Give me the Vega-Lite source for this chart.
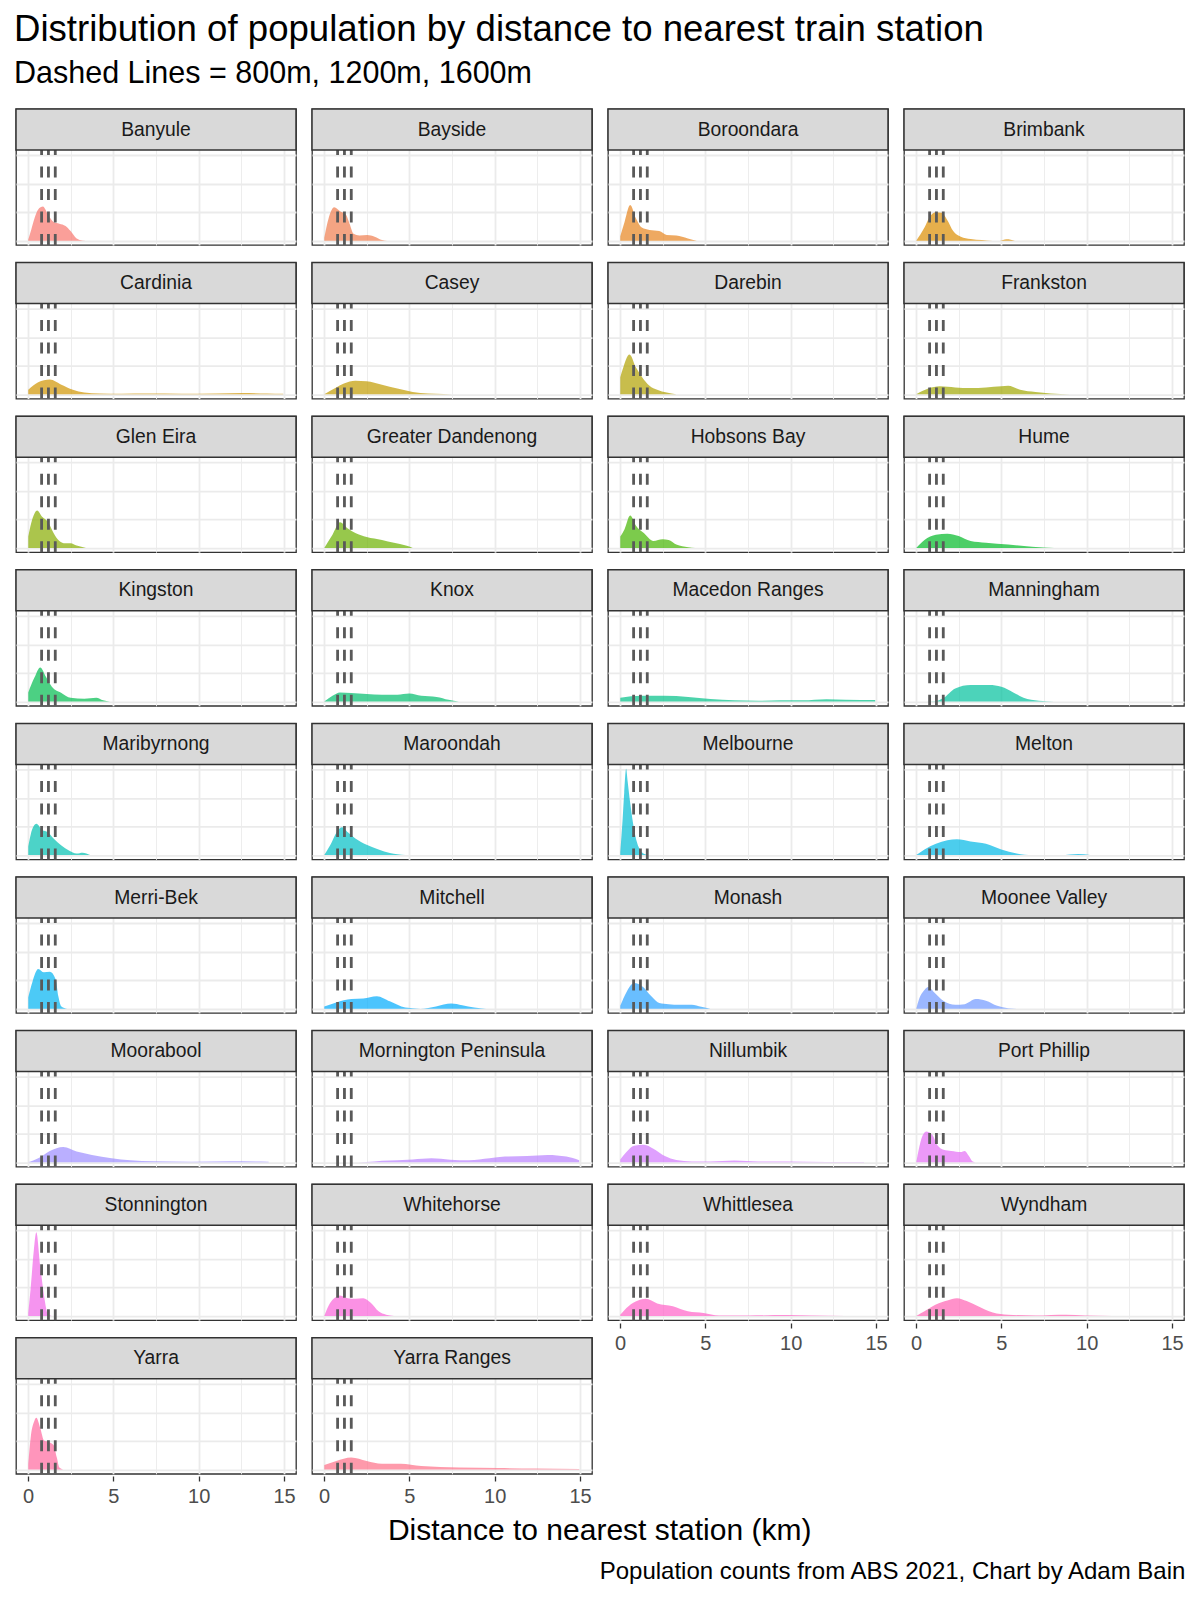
{
  "$schema": "https://vega.github.io/schema/vega-lite/v6.json",
  "background": "white",
  "padding": {"left": 14, "right": 16, "top": 12, "bottom": 10},
  "title": {
    "text": "Distribution of population by distance to nearest train station",
    "subtitle": "Dashed Lines = 800m, 1200m, 1600m",
    "anchor": "start",
    "font": "Liberation Sans",
    "subtitleFont": "Liberation Sans",
    "fontSize": 36.6,
    "subtitleFontSize": 30.5,
    "fontWeight": "normal",
    "color": "#000000",
    "subtitleColor": "#000000",
    "subtitlePadding": 10,
    "offset": 18
  },
  "data": {
    "values": [
      {"lga": "Banyule", "km": 0.02, "density": 0.02},
      {"lga": "Banyule", "km": 0.2, "density": 0.2},
      {"lga": "Banyule", "km": 0.38, "density": 0.39},
      {"lga": "Banyule", "km": 0.6, "density": 0.55},
      {"lga": "Banyule", "km": 0.88, "density": 0.6},
      {"lga": "Banyule", "km": 1.17, "density": 0.46},
      {"lga": "Banyule", "km": 1.5, "density": 0.33},
      {"lga": "Banyule", "km": 1.84, "density": 0.3},
      {"lga": "Banyule", "km": 2.2, "density": 0.26},
      {"lga": "Banyule", "km": 2.5, "density": 0.17},
      {"lga": "Banyule", "km": 2.85, "density": 0.04},
      {"lga": "Banyule", "km": 3.2, "density": 0.005},
      {"lga": "Banyule", "km": 3.6, "density": 0},

      {"lga": "Bayside", "km": 0.02, "density": 0.05},
      {"lga": "Bayside", "km": 0.27, "density": 0.39},
      {"lga": "Bayside", "km": 0.6, "density": 0.59},
      {"lga": "Bayside", "km": 0.94, "density": 0.52},
      {"lga": "Bayside", "km": 1.28, "density": 0.46},
      {"lga": "Bayside", "km": 1.5, "density": 0.3},
      {"lga": "Bayside", "km": 1.74, "density": 0.12},
      {"lga": "Bayside", "km": 2.08, "density": 0.09},
      {"lga": "Bayside", "km": 2.53, "density": 0.1},
      {"lga": "Bayside", "km": 2.97, "density": 0.07},
      {"lga": "Bayside", "km": 3.4, "density": 0.01},
      {"lga": "Bayside", "km": 3.7, "density": 0},

      {"lga": "Boroondara", "km": 0.02, "density": 0.08},
      {"lga": "Boroondara", "km": 0.27, "density": 0.33},
      {"lga": "Boroondara", "km": 0.6, "density": 0.63},
      {"lga": "Boroondara", "km": 0.94, "density": 0.39},
      {"lga": "Boroondara", "km": 1.28, "density": 0.23},
      {"lga": "Boroondara", "km": 1.73, "density": 0.19},
      {"lga": "Boroondara", "km": 2.3, "density": 0.17},
      {"lga": "Boroondara", "km": 2.74, "density": 0.1},
      {"lga": "Boroondara", "km": 3.3, "density": 0.09},
      {"lga": "Boroondara", "km": 3.98, "density": 0.04},
      {"lga": "Boroondara", "km": 4.5, "density": 0},

      {"lga": "Brimbank", "km": 0.02, "density": 0},
      {"lga": "Brimbank", "km": 0.5, "density": 0.23},
      {"lga": "Brimbank", "km": 0.83, "density": 0.43},
      {"lga": "Brimbank", "km": 1.17, "density": 0.5},
      {"lga": "Brimbank", "km": 1.5, "density": 0.49},
      {"lga": "Brimbank", "km": 1.84, "density": 0.36},
      {"lga": "Brimbank", "km": 2.18, "density": 0.17},
      {"lga": "Brimbank", "km": 2.63, "density": 0.07},
      {"lga": "Brimbank", "km": 3.2, "density": 0.03},
      {"lga": "Brimbank", "km": 3.86, "density": 0.01},
      {"lga": "Brimbank", "km": 4.5, "density": 0},
      {"lga": "Brimbank", "km": 4.9, "density": 0},
      {"lga": "Brimbank", "km": 5.3, "density": 0.025},
      {"lga": "Brimbank", "km": 5.8, "density": 0},

      {"lga": "Cardinia", "km": 0.02, "density": 0.08},
      {"lga": "Cardinia", "km": 0.6, "density": 0.21},
      {"lga": "Cardinia", "km": 1.28, "density": 0.26},
      {"lga": "Cardinia", "km": 1.96, "density": 0.17},
      {"lga": "Cardinia", "km": 2.63, "density": 0.08},
      {"lga": "Cardinia", "km": 3.3, "density": 0.03},
      {"lga": "Cardinia", "km": 4.2, "density": 0.013},
      {"lga": "Cardinia", "km": 5.5, "density": 0.01},
      {"lga": "Cardinia", "km": 7, "density": 0.012},
      {"lga": "Cardinia", "km": 9, "density": 0.01},
      {"lga": "Cardinia", "km": 11, "density": 0.015},
      {"lga": "Cardinia", "km": 12.5, "density": 0.022},
      {"lga": "Cardinia", "km": 14, "density": 0.015},
      {"lga": "Cardinia", "km": 14.95, "density": 0.01},

      {"lga": "Casey", "km": 0.02, "density": 0},
      {"lga": "Casey", "km": 0.72, "density": 0.12},
      {"lga": "Casey", "km": 1.17, "density": 0.19},
      {"lga": "Casey", "km": 1.84, "density": 0.24},
      {"lga": "Casey", "km": 2.5, "density": 0.23},
      {"lga": "Casey", "km": 3.4, "density": 0.17},
      {"lga": "Casey", "km": 4.3, "density": 0.1},
      {"lga": "Casey", "km": 5.2, "density": 0.04},
      {"lga": "Casey", "km": 6.1, "density": 0.013},
      {"lga": "Casey", "km": 7, "density": 0.005},
      {"lga": "Casey", "km": 8, "density": 0},

      {"lga": "Darebin", "km": 0.02, "density": 0.3},
      {"lga": "Darebin", "km": 0.16, "density": 0.44},
      {"lga": "Darebin", "km": 0.56, "density": 0.7},
      {"lga": "Darebin", "km": 0.94, "density": 0.47},
      {"lga": "Darebin", "km": 1.28, "density": 0.31},
      {"lga": "Darebin", "km": 1.73, "density": 0.15},
      {"lga": "Darebin", "km": 2.18, "density": 0.08},
      {"lga": "Darebin", "km": 2.74, "density": 0.03},
      {"lga": "Darebin", "km": 3.3, "density": 0},

      {"lga": "Frankston", "km": 0.02, "density": 0},
      {"lga": "Frankston", "km": 0.72, "density": 0.1},
      {"lga": "Frankston", "km": 1.4, "density": 0.14},
      {"lga": "Frankston", "km": 2.3, "density": 0.12},
      {"lga": "Frankston", "km": 3.2, "density": 0.11},
      {"lga": "Frankston", "km": 4.1, "density": 0.12},
      {"lga": "Frankston", "km": 5.0, "density": 0.14},
      {"lga": "Frankston", "km": 5.4, "density": 0.15},
      {"lga": "Frankston", "km": 6.1, "density": 0.08},
      {"lga": "Frankston", "km": 7.0, "density": 0.04},
      {"lga": "Frankston", "km": 7.9, "density": 0.013},
      {"lga": "Frankston", "km": 9, "density": 0},

      {"lga": "Glen Eira", "km": 0.02, "density": 0.2},
      {"lga": "Glen Eira", "km": 0.27, "density": 0.52},
      {"lga": "Glen Eira", "km": 0.54, "density": 0.66},
      {"lga": "Glen Eira", "km": 0.83, "density": 0.55},
      {"lga": "Glen Eira", "km": 1.17, "density": 0.46},
      {"lga": "Glen Eira", "km": 1.5, "density": 0.26},
      {"lga": "Glen Eira", "km": 1.84, "density": 0.12},
      {"lga": "Glen Eira", "km": 2.18, "density": 0.08},
      {"lga": "Glen Eira", "km": 2.5, "density": 0.08},
      {"lga": "Glen Eira", "km": 2.85, "density": 0.04},
      {"lga": "Glen Eira", "km": 3.4, "density": 0},

      {"lga": "Greater Dandenong", "km": 0.02, "density": 0},
      {"lga": "Greater Dandenong", "km": 0.5, "density": 0.23},
      {"lga": "Greater Dandenong", "km": 0.94, "density": 0.45},
      {"lga": "Greater Dandenong", "km": 1.4, "density": 0.34},
      {"lga": "Greater Dandenong", "km": 1.84, "density": 0.26},
      {"lga": "Greater Dandenong", "km": 2.5, "density": 0.19},
      {"lga": "Greater Dandenong", "km": 3.4, "density": 0.14},
      {"lga": "Greater Dandenong", "km": 4.1, "density": 0.09},
      {"lga": "Greater Dandenong", "km": 4.8, "density": 0.04},
      {"lga": "Greater Dandenong", "km": 5.2, "density": 0},

      {"lga": "Hobsons Bay", "km": 0.02, "density": 0.2},
      {"lga": "Hobsons Bay", "km": 0.27, "density": 0.33},
      {"lga": "Hobsons Bay", "km": 0.6, "density": 0.57},
      {"lga": "Hobsons Bay", "km": 0.94, "density": 0.39},
      {"lga": "Hobsons Bay", "km": 1.4, "density": 0.26},
      {"lga": "Hobsons Bay", "km": 1.96, "density": 0.12},
      {"lga": "Hobsons Bay", "km": 2.5, "density": 0.15},
      {"lga": "Hobsons Bay", "km": 2.85, "density": 0.14},
      {"lga": "Hobsons Bay", "km": 3.3, "density": 0.06},
      {"lga": "Hobsons Bay", "km": 4.0, "density": 0.013},
      {"lga": "Hobsons Bay", "km": 4.4, "density": 0},

      {"lga": "Hume", "km": 0.02, "density": 0},
      {"lga": "Hume", "km": 0.5, "density": 0.14},
      {"lga": "Hume", "km": 1.17, "density": 0.23},
      {"lga": "Hume", "km": 1.84, "density": 0.25},
      {"lga": "Hume", "km": 2.5, "density": 0.21},
      {"lga": "Hume", "km": 3.2, "density": 0.12},
      {"lga": "Hume", "km": 4.1, "density": 0.09},
      {"lga": "Hume", "km": 5.4, "density": 0.06},
      {"lga": "Hume", "km": 6.8, "density": 0.02},
      {"lga": "Hume", "km": 8.1, "density": 0},

      {"lga": "Kingston", "km": 0.02, "density": 0.16},
      {"lga": "Kingston", "km": 0.38, "density": 0.42},
      {"lga": "Kingston", "km": 0.72, "density": 0.6},
      {"lga": "Kingston", "km": 1.06, "density": 0.43},
      {"lga": "Kingston", "km": 1.4, "density": 0.26},
      {"lga": "Kingston", "km": 1.96, "density": 0.15},
      {"lga": "Kingston", "km": 2.5, "density": 0.065},
      {"lga": "Kingston", "km": 3.3, "density": 0.05},
      {"lga": "Kingston", "km": 4.0, "density": 0.065},
      {"lga": "Kingston", "km": 4.4, "density": 0.02},
      {"lga": "Kingston", "km": 4.8, "density": 0},

      {"lga": "Knox", "km": 0.02, "density": 0},
      {"lga": "Knox", "km": 0.5, "density": 0.1},
      {"lga": "Knox", "km": 0.94, "density": 0.16},
      {"lga": "Knox", "km": 1.6, "density": 0.15},
      {"lga": "Knox", "km": 2.5, "density": 0.13},
      {"lga": "Knox", "km": 3.4, "density": 0.12},
      {"lga": "Knox", "km": 4.3, "density": 0.12},
      {"lga": "Knox", "km": 5.0, "density": 0.14},
      {"lga": "Knox", "km": 5.7, "density": 0.1},
      {"lga": "Knox", "km": 6.6, "density": 0.08},
      {"lga": "Knox", "km": 7.3, "density": 0.03},
      {"lga": "Knox", "km": 7.9, "density": 0},

      {"lga": "Macedon Ranges", "km": 0.02, "density": 0.065},
      {"lga": "Macedon Ranges", "km": 1.28, "density": 0.1},
      {"lga": "Macedon Ranges", "km": 2.6, "density": 0.1},
      {"lga": "Macedon Ranges", "km": 4.0, "density": 0.08},
      {"lga": "Macedon Ranges", "km": 5.3, "density": 0.045},
      {"lga": "Macedon Ranges", "km": 6.7, "density": 0.02},
      {"lga": "Macedon Ranges", "km": 8.1, "density": 0.013},
      {"lga": "Macedon Ranges", "km": 9.4, "density": 0.02},
      {"lga": "Macedon Ranges", "km": 10.7, "density": 0.02},
      {"lga": "Macedon Ranges", "km": 12.1, "density": 0.04},
      {"lga": "Macedon Ranges", "km": 13.2, "density": 0.03},
      {"lga": "Macedon Ranges", "km": 14.95, "density": 0.025},

      {"lga": "Manningham", "km": 0.02, "density": 0},
      {"lga": "Manningham", "km": 1.17, "density": 0.005},
      {"lga": "Manningham", "km": 1.6, "density": 0.06},
      {"lga": "Manningham", "km": 2.3, "density": 0.23},
      {"lga": "Manningham", "km": 3.2, "density": 0.29},
      {"lga": "Manningham", "km": 4.3, "density": 0.29},
      {"lga": "Manningham", "km": 5.0, "density": 0.26},
      {"lga": "Manningham", "km": 5.7, "density": 0.16},
      {"lga": "Manningham", "km": 6.3, "density": 0.065},
      {"lga": "Manningham", "km": 7.2, "density": 0.013},
      {"lga": "Manningham", "km": 8.1, "density": 0},

      {"lga": "Maribyrnong", "km": 0.02, "density": 0.15},
      {"lga": "Maribyrnong", "km": 0.16, "density": 0.36},
      {"lga": "Maribyrnong", "km": 0.49, "density": 0.55},
      {"lga": "Maribyrnong", "km": 0.83, "density": 0.44},
      {"lga": "Maribyrnong", "km": 1.17, "density": 0.4},
      {"lga": "Maribyrnong", "km": 1.5, "density": 0.29},
      {"lga": "Maribyrnong", "km": 1.96, "density": 0.17},
      {"lga": "Maribyrnong", "km": 2.4, "density": 0.08},
      {"lga": "Maribyrnong", "km": 2.85, "density": 0.026},
      {"lga": "Maribyrnong", "km": 3.2, "density": 0.04},
      {"lga": "Maribyrnong", "km": 3.64, "density": 0},

      {"lga": "Maroondah", "km": 0.02, "density": 0},
      {"lga": "Maroondah", "km": 0.38, "density": 0.18},
      {"lga": "Maroondah", "km": 0.83, "density": 0.44},
      {"lga": "Maroondah", "km": 1.06, "density": 0.49},
      {"lga": "Maroondah", "km": 1.4, "density": 0.4},
      {"lga": "Maroondah", "km": 1.84, "density": 0.29},
      {"lga": "Maroondah", "km": 2.5, "density": 0.18},
      {"lga": "Maroondah", "km": 3.2, "density": 0.1},
      {"lga": "Maroondah", "km": 3.86, "density": 0.035},
      {"lga": "Maroondah", "km": 4.76, "density": 0},

      {"lga": "Melbourne", "km": 0.02, "density": 0.05},
      {"lga": "Melbourne", "km": 0.16, "density": 0.65},
      {"lga": "Melbourne", "km": 0.25, "density": 1.1},
      {"lga": "Melbourne", "km": 0.36, "density": 1.52},
      {"lga": "Melbourne", "km": 0.45, "density": 1.3},
      {"lga": "Melbourne", "km": 0.6, "density": 0.92},
      {"lga": "Melbourne", "km": 0.8, "density": 0.5},
      {"lga": "Melbourne", "km": 1.0, "density": 0.22},
      {"lga": "Melbourne", "km": 1.2, "density": 0.08},
      {"lga": "Melbourne", "km": 1.4, "density": 0.025},
      {"lga": "Melbourne", "km": 1.7, "density": 0},

      {"lga": "Melton", "km": 0.02, "density": 0},
      {"lga": "Melton", "km": 0.5, "density": 0.1},
      {"lga": "Melton", "km": 1.17, "density": 0.2},
      {"lga": "Melton", "km": 1.84, "density": 0.26},
      {"lga": "Melton", "km": 2.4, "density": 0.28},
      {"lga": "Melton", "km": 3.2, "density": 0.24},
      {"lga": "Melton", "km": 4.1, "density": 0.2},
      {"lga": "Melton", "km": 5.0, "density": 0.1},
      {"lga": "Melton", "km": 5.9, "density": 0.03},
      {"lga": "Melton", "km": 6.8, "density": 0},
      {"lga": "Melton", "km": 8.5, "density": 0},
      {"lga": "Melton", "km": 9.5, "density": 0.02},
      {"lga": "Melton", "km": 10.2, "density": 0},

      {"lga": "Merri-Bek", "km": 0.02, "density": 0.2},
      {"lga": "Merri-Bek", "km": 0.27, "density": 0.48},
      {"lga": "Merri-Bek", "km": 0.6, "density": 0.7},
      {"lga": "Merri-Bek", "km": 0.94, "density": 0.64},
      {"lga": "Merri-Bek", "km": 1.28, "density": 0.65},
      {"lga": "Merri-Bek", "km": 1.62, "density": 0.52},
      {"lga": "Merri-Bek", "km": 1.78, "density": 0.22},
      {"lga": "Merri-Bek", "km": 1.96, "density": 0.04},
      {"lga": "Merri-Bek", "km": 2.3, "density": 0},

      {"lga": "Mitchell", "km": 0.02, "density": 0.04},
      {"lga": "Mitchell", "km": 0.72, "density": 0.11},
      {"lga": "Mitchell", "km": 1.6, "density": 0.17},
      {"lga": "Mitchell", "km": 2.3, "density": 0.18},
      {"lga": "Mitchell", "km": 3.1, "density": 0.22},
      {"lga": "Mitchell", "km": 3.86, "density": 0.13},
      {"lga": "Mitchell", "km": 4.76, "density": 0.02},
      {"lga": "Mitchell", "km": 5.66, "density": 0},
      {"lga": "Mitchell", "km": 6.56, "density": 0.04},
      {"lga": "Mitchell", "km": 7.46, "density": 0.09},
      {"lga": "Mitchell", "km": 8.1, "density": 0.06},
      {"lga": "Mitchell", "km": 8.8, "density": 0.02},
      {"lga": "Mitchell", "km": 9.5, "density": 0},

      {"lga": "Monash", "km": 0.02, "density": 0.05},
      {"lga": "Monash", "km": 0.38, "density": 0.29},
      {"lga": "Monash", "km": 0.83, "density": 0.45},
      {"lga": "Monash", "km": 1.28, "density": 0.4},
      {"lga": "Monash", "km": 1.84, "density": 0.22},
      {"lga": "Monash", "km": 2.3, "density": 0.1},
      {"lga": "Monash", "km": 2.85, "density": 0.08},
      {"lga": "Monash", "km": 3.5, "density": 0.07},
      {"lga": "Monash", "km": 4.2, "density": 0.07},
      {"lga": "Monash", "km": 4.76, "density": 0.035},
      {"lga": "Monash", "km": 5.3, "density": 0},

      {"lga": "Moonee Valley", "km": 0.02, "density": 0},
      {"lga": "Moonee Valley", "km": 0.16, "density": 0.15},
      {"lga": "Moonee Valley", "km": 0.5, "density": 0.33},
      {"lga": "Moonee Valley", "km": 0.72, "density": 0.38},
      {"lga": "Moonee Valley", "km": 1.06, "density": 0.29},
      {"lga": "Moonee Valley", "km": 1.6, "density": 0.14},
      {"lga": "Moonee Valley", "km": 2.3, "density": 0.07},
      {"lga": "Moonee Valley", "km": 2.85, "density": 0.08},
      {"lga": "Moonee Valley", "km": 3.5, "density": 0.17},
      {"lga": "Moonee Valley", "km": 4.1, "density": 0.14},
      {"lga": "Moonee Valley", "km": 4.76, "density": 0.05},
      {"lga": "Moonee Valley", "km": 5.4, "density": 0.007},
      {"lga": "Moonee Valley", "km": 5.9, "density": 0},

      {"lga": "Moorabool", "km": 0.02, "density": 0},
      {"lga": "Moorabool", "km": 0.6, "density": 0.07},
      {"lga": "Moorabool", "km": 1.28, "density": 0.2},
      {"lga": "Moorabool", "km": 2.07, "density": 0.27},
      {"lga": "Moorabool", "km": 2.85, "density": 0.19},
      {"lga": "Moorabool", "km": 3.75, "density": 0.13},
      {"lga": "Moorabool", "km": 4.9, "density": 0.07},
      {"lga": "Moorabool", "km": 6.0, "density": 0.035},
      {"lga": "Moorabool", "km": 7.35, "density": 0.017},
      {"lga": "Moorabool", "km": 9.6, "density": 0.01},
      {"lga": "Moorabool", "km": 11.8, "density": 0.017},
      {"lga": "Moorabool", "km": 14.1, "density": 0.01},

      {"lga": "Mornington Peninsula", "km": 1.5, "density": 0},
      {"lga": "Mornington Peninsula", "km": 2.5, "density": 0.005},
      {"lga": "Mornington Peninsula", "km": 3.4, "density": 0.026},
      {"lga": "Mornington Peninsula", "km": 5.2, "density": 0.05},
      {"lga": "Mornington Peninsula", "km": 6.3, "density": 0.07},
      {"lga": "Mornington Peninsula", "km": 7.4, "density": 0.045},
      {"lga": "Mornington Peninsula", "km": 8.5, "density": 0.035},
      {"lga": "Mornington Peninsula", "km": 9.7, "density": 0.07},
      {"lga": "Mornington Peninsula", "km": 10.6, "density": 0.1},
      {"lga": "Mornington Peninsula", "km": 11.9, "density": 0.11},
      {"lga": "Mornington Peninsula", "km": 13.1, "density": 0.13},
      {"lga": "Mornington Peninsula", "km": 14.2, "density": 0.1},
      {"lga": "Mornington Peninsula", "km": 14.95, "density": 0.035},

      {"lga": "Nillumbik", "km": 0.02, "density": 0.05},
      {"lga": "Nillumbik", "km": 0.38, "density": 0.18},
      {"lga": "Nillumbik", "km": 0.83, "density": 0.29},
      {"lga": "Nillumbik", "km": 1.4, "density": 0.31},
      {"lga": "Nillumbik", "km": 1.96, "density": 0.24},
      {"lga": "Nillumbik", "km": 2.63, "density": 0.11},
      {"lga": "Nillumbik", "km": 3.3, "density": 0.04},
      {"lga": "Nillumbik", "km": 4.2, "density": 0.014},
      {"lga": "Nillumbik", "km": 5.3, "density": 0.014},
      {"lga": "Nillumbik", "km": 6.7, "density": 0.03},
      {"lga": "Nillumbik", "km": 8.1, "density": 0.014},
      {"lga": "Nillumbik", "km": 9.8, "density": 0.014},
      {"lga": "Nillumbik", "km": 12.1, "density": 0.007},
      {"lga": "Nillumbik", "km": 14.3, "density": 0.007},

      {"lga": "Port Phillip", "km": 0.02, "density": 0},
      {"lga": "Port Phillip", "km": 0.27, "density": 0.36},
      {"lga": "Port Phillip", "km": 0.6, "density": 0.54},
      {"lga": "Port Phillip", "km": 0.94, "density": 0.49},
      {"lga": "Port Phillip", "km": 1.28, "density": 0.29},
      {"lga": "Port Phillip", "km": 1.62, "density": 0.22},
      {"lga": "Port Phillip", "km": 2.07, "density": 0.2},
      {"lga": "Port Phillip", "km": 2.63, "density": 0.18},
      {"lga": "Port Phillip", "km": 2.85, "density": 0.2},
      {"lga": "Port Phillip", "km": 3.1, "density": 0.11},
      {"lga": "Port Phillip", "km": 3.3, "density": 0.02},
      {"lga": "Port Phillip", "km": 3.5, "density": 0},

      {"lga": "Stonnington", "km": 0.02, "density": 0.05},
      {"lga": "Stonnington", "km": 0.16, "density": 0.49},
      {"lga": "Stonnington", "km": 0.34, "density": 1.14},
      {"lga": "Stonnington", "km": 0.49, "density": 1.47},
      {"lga": "Stonnington", "km": 0.72, "density": 0.88},
      {"lga": "Stonnington", "km": 0.94, "density": 0.36},
      {"lga": "Stonnington", "km": 1.17, "density": 0.03},
      {"lga": "Stonnington", "km": 1.4, "density": 0},

      {"lga": "Whitehorse", "km": 0.02, "density": 0},
      {"lga": "Whitehorse", "km": 0.27, "density": 0.18},
      {"lga": "Whitehorse", "km": 0.6, "density": 0.31},
      {"lga": "Whitehorse", "km": 0.94, "density": 0.36},
      {"lga": "Whitehorse", "km": 1.4, "density": 0.31},
      {"lga": "Whitehorse", "km": 1.84, "density": 0.3},
      {"lga": "Whitehorse", "km": 2.3, "density": 0.31},
      {"lga": "Whitehorse", "km": 2.74, "density": 0.23},
      {"lga": "Whitehorse", "km": 3.2, "density": 0.08},
      {"lga": "Whitehorse", "km": 3.64, "density": 0.02},
      {"lga": "Whitehorse", "km": 4.1, "density": 0},

      {"lga": "Whittlesea", "km": 0.02, "density": 0.02},
      {"lga": "Whittlesea", "km": 0.5, "density": 0.17},
      {"lga": "Whittlesea", "km": 1.06, "density": 0.27},
      {"lga": "Whittlesea", "km": 1.5, "density": 0.3},
      {"lga": "Whittlesea", "km": 2.18, "density": 0.22},
      {"lga": "Whittlesea", "km": 3.1, "density": 0.17},
      {"lga": "Whittlesea", "km": 3.98, "density": 0.08},
      {"lga": "Whittlesea", "km": 4.9, "density": 0.05},
      {"lga": "Whittlesea", "km": 5.8, "density": 0.007},
      {"lga": "Whittlesea", "km": 7.6, "density": 0.007},
      {"lga": "Whittlesea", "km": 9.8, "density": 0.014},
      {"lga": "Whittlesea", "km": 11.2, "density": 0.007},
      {"lga": "Whittlesea", "km": 13.2, "density": 0},

      {"lga": "Wyndham", "km": 0.02, "density": 0},
      {"lga": "Wyndham", "km": 0.5, "density": 0.08},
      {"lga": "Wyndham", "km": 1.17, "density": 0.2},
      {"lga": "Wyndham", "km": 1.84, "density": 0.27},
      {"lga": "Wyndham", "km": 2.4, "density": 0.31},
      {"lga": "Wyndham", "km": 2.97, "density": 0.26},
      {"lga": "Wyndham", "km": 3.64, "density": 0.17},
      {"lga": "Wyndham", "km": 4.5, "density": 0.06},
      {"lga": "Wyndham", "km": 5.4, "density": 0.02},
      {"lga": "Wyndham", "km": 7, "density": 0.007},
      {"lga": "Wyndham", "km": 8.8, "density": 0.02},
      {"lga": "Wyndham", "km": 9.9, "density": 0.007},
      {"lga": "Wyndham", "km": 11.5, "density": 0},

      {"lga": "Yarra", "km": 0.02, "density": 0.1},
      {"lga": "Yarra", "km": 0.16, "density": 0.56},
      {"lga": "Yarra", "km": 0.38, "density": 0.86},
      {"lga": "Yarra", "km": 0.49, "density": 0.91},
      {"lga": "Yarra", "km": 0.72, "density": 0.73},
      {"lga": "Yarra", "km": 0.94, "density": 0.51},
      {"lga": "Yarra", "km": 1.17, "density": 0.49},
      {"lga": "Yarra", "km": 1.5, "density": 0.43},
      {"lga": "Yarra", "km": 1.69, "density": 0.21},
      {"lga": "Yarra", "km": 1.84, "density": 0.035},
      {"lga": "Yarra", "km": 2.07, "density": 0},

      {"lga": "Yarra Ranges", "km": 0.02, "density": 0.08},
      {"lga": "Yarra Ranges", "km": 0.72, "density": 0.15},
      {"lga": "Yarra Ranges", "km": 1.6, "density": 0.21},
      {"lga": "Yarra Ranges", "km": 2.5, "density": 0.15},
      {"lga": "Yarra Ranges", "km": 3.4, "density": 0.1},
      {"lga": "Yarra Ranges", "km": 4.5, "density": 0.1},
      {"lga": "Yarra Ranges", "km": 5.7, "density": 0.06},
      {"lga": "Yarra Ranges", "km": 7.9, "density": 0.035},
      {"lga": "Yarra Ranges", "km": 10.2, "density": 0.026},
      {"lga": "Yarra Ranges", "km": 12.4, "density": 0.017},
      {"lga": "Yarra Ranges", "km": 14.95, "density": 0.01}
    ]
  },
  "vconcat": [
    {
      "title": {
        "text": "Population counts from ABS 2021, Chart by Adam Bain",
        "orient": "bottom",
        "anchor": "end",
        "font": "Liberation Sans",
        "fontSize": 24,
        "fontWeight": "normal",
        "color": "#000000",
        "offset": 14
      },
      "vconcat": [
        {
          "title": {
            "text": "Distance to nearest station (km)",
            "orient": "bottom",
            "anchor": "middle",
            "font": "Liberation Sans",
            "fontSize": 30,
            "fontWeight": "normal",
            "color": "#000000",
            "offset": 10
          },
          "spacing": 12,
          "hconcat": [
            {
              "transform": [
                {"filter": {"field": "lga", "oneOf": ["Banyule", "Bayside", "Cardinia", "Casey", "Glen Eira", "Greater Dandenong", "Kingston", "Knox", "Maribyrnong", "Maroondah", "Merri-Bek", "Mitchell", "Moorabool", "Mornington Peninsula", "Stonnington", "Whitehorse", "Yarra", "Yarra Ranges"]}}
              ],
              "facet": {
                "field": "lga",
                "type": "nominal",
                "header": {"labels": false, "labelExpr": "''", "labelFontSize": 0.1, "labelPadding": 0, "title": null}
              },
              "columns": 2,
              "spacing": {"row": 12.6, "column": 12},
              "spec": {
                "width": 280,
                "height": 136,
                "layer": [
                  {
                    "mark": {"type": "area", "interpolate": "monotone", "fillOpacity": 0.7},
                    "encoding": {
                      "x": {
                        "field": "km",
                        "type": "quantitative",
                        "scale": {"domain": [-0.7, 15.7], "nice": false, "zero": false},
                        "axis": {
                          "title": null,
                          "values": [0, 2.5, 5, 7.5, 10, 12.5, 15],
                          "labelExpr": "datum.value % 5 === 0 ? datum.label : ''",
                          "domain": false,
                          "grid": true,
                          "gridColor": "#EBEBEB",
                          "gridWidth": {"condition": {"test": "datum.value % 5 === 0", "value": 1.8}, "value": 0.9},
                          "tickColor": "#333333",
                          "tickWidth": 1.3,
                          "tickSize": 5,
                          "tickOpacity": {"condition": {"test": "datum.value % 5 === 0", "value": 1}, "value": 0},
                          "labelFont": "Liberation Sans",
                          "labelFontSize": 20,
                          "labelColor": "#4D4D4D",
                          "labelPadding": 5
                        }
                      },
                      "y": {
                        "field": "density",
                        "type": "quantitative",
                        "scale": {"domain": [-0.076, 2.318], "nice": false, "zero": false},
                        "axis": {
                          "title": null,
                          "values": [0, 0.25, 0.5, 0.75, 1, 1.25, 1.5],
                          "labels": false,
                          "ticks": false,
                          "domain": false,
                          "grid": true,
                          "gridColor": "#EBEBEB",
                          "gridWidth": {"condition": {"test": "datum.value % 0.5 === 0", "value": 1.8}, "value": 0.9}
                        }
                      },
                      "y2": {"datum": 0},
                      "color": {
                        "field": "lga",
                        "type": "nominal",
                        "legend": null,
                        "scale": {
                          "domain": ["Banyule", "Bayside", "Boroondara", "Brimbank", "Cardinia", "Casey", "Darebin", "Frankston", "Glen Eira", "Greater Dandenong", "Hobsons Bay", "Hume", "Kingston", "Knox", "Macedon Ranges", "Manningham", "Maribyrnong", "Maroondah", "Melbourne", "Melton", "Merri-Bek", "Mitchell", "Monash", "Moonee Valley", "Moorabool", "Mornington Peninsula", "Nillumbik", "Port Phillip", "Stonnington", "Whitehorse", "Whittlesea", "Wyndham", "Yarra", "Yarra Ranges"],
                          "range": ["#F8766D", "#F07E4E", "#E7851E", "#DC8D00", "#D09400", "#C29B00", "#B1A100", "#9FA600", "#88AC00", "#6BB100", "#44B500", "#00B927", "#00BC4E", "#00BE6D", "#00C087", "#00C19D", "#00C0B0", "#00BFC4", "#00BCD4", "#00B8E5", "#00B3F2", "#00ABFC", "#29A3FF", "#7099FF", "#9C8DFF", "#B982FF", "#D277FD", "#E46DF5", "#F166E8", "#FA62D9", "#FF61C7", "#FF63B3", "#FF689E", "#FD6F87"]
                        }
                      }
                    }
                  },
                  {
                    "transform": [{"aggregate": [{"op": "count", "as": "n"}], "groupby": ["lga"]}],
                    "layer": [
                      {
                        "mark": {"type": "rule", "color": "#595959", "strokeWidth": 2.8, "strokeDash": [11, 11.5]},
                        "encoding": {"x": {"datum": 0.8}, "y": {"datum": -0.076}, "y2": {"datum": 1.596}}
                      },
                      {
                        "mark": {"type": "rule", "color": "#595959", "strokeWidth": 2.8, "strokeDash": [11, 11.5]},
                        "encoding": {"x": {"datum": 1.2}, "y": {"datum": -0.076}, "y2": {"datum": 1.596}}
                      },
                      {
                        "mark": {"type": "rule", "color": "#595959", "strokeWidth": 2.8, "strokeDash": [11, 11.5]},
                        "encoding": {"x": {"datum": 1.6}, "y": {"datum": -0.076}, "y2": {"datum": 1.596}}
                      },
                      {
                        "mark": {"type": "rect", "fill": "#D9D9D9", "stroke": "#333333", "strokeWidth": 1.5},
                        "encoding": {"x": {"datum": -0.7}, "x2": {"datum": 15.7}, "y": {"datum": 1.596}, "y2": {"datum": 2.318}}
                      },
                      {
                        "mark": {"type": "text", "font": "Liberation Sans", "fontSize": 19.3, "color": "#1A1A1A", "baseline": "middle", "align": "center"},
                        "encoding": {"x": {"datum": 7.5}, "y": {"datum": 1.957}, "text": {"field": "lga", "type": "nominal"}}
                      }
                    ]
                  }
                ]
              }
            },
            {
              "transform": [
                {"filter": {"field": "lga", "oneOf": ["Boroondara", "Brimbank", "Darebin", "Frankston", "Hobsons Bay", "Hume", "Macedon Ranges", "Manningham", "Melbourne", "Melton", "Monash", "Moonee Valley", "Nillumbik", "Port Phillip", "Whittlesea", "Wyndham"]}}
              ],
              "facet": {
                "field": "lga",
                "type": "nominal",
                "header": {"labels": false, "labelExpr": "''", "labelFontSize": 0.1, "labelPadding": 0, "title": null}
              },
              "columns": 2,
              "spacing": {"row": 12.6, "column": 12},
              "spec": {
                "width": 280,
                "height": 136,
                "layer": [
                  {
                    "mark": {"type": "area", "interpolate": "monotone", "fillOpacity": 0.7},
                    "encoding": {
                      "x": {
                        "field": "km",
                        "type": "quantitative",
                        "scale": {"domain": [-0.7, 15.7], "nice": false, "zero": false},
                        "axis": {
                          "title": null,
                          "values": [0, 2.5, 5, 7.5, 10, 12.5, 15],
                          "labelExpr": "datum.value % 5 === 0 ? datum.label : ''",
                          "domain": false,
                          "grid": true,
                          "gridColor": "#EBEBEB",
                          "gridWidth": {"condition": {"test": "datum.value % 5 === 0", "value": 1.8}, "value": 0.9},
                          "tickColor": "#333333",
                          "tickWidth": 1.3,
                          "tickSize": 5,
                          "tickOpacity": {"condition": {"test": "datum.value % 5 === 0", "value": 1}, "value": 0},
                          "labelFont": "Liberation Sans",
                          "labelFontSize": 20,
                          "labelColor": "#4D4D4D",
                          "labelPadding": 5
                        }
                      },
                      "y": {
                        "field": "density",
                        "type": "quantitative",
                        "scale": {"domain": [-0.076, 2.318], "nice": false, "zero": false},
                        "axis": {
                          "title": null,
                          "values": [0, 0.25, 0.5, 0.75, 1, 1.25, 1.5],
                          "labels": false,
                          "ticks": false,
                          "domain": false,
                          "grid": true,
                          "gridColor": "#EBEBEB",
                          "gridWidth": {"condition": {"test": "datum.value % 0.5 === 0", "value": 1.8}, "value": 0.9}
                        }
                      },
                      "y2": {"datum": 0},
                      "color": {
                        "field": "lga",
                        "type": "nominal",
                        "legend": null,
                        "scale": {
                          "domain": ["Banyule", "Bayside", "Boroondara", "Brimbank", "Cardinia", "Casey", "Darebin", "Frankston", "Glen Eira", "Greater Dandenong", "Hobsons Bay", "Hume", "Kingston", "Knox", "Macedon Ranges", "Manningham", "Maribyrnong", "Maroondah", "Melbourne", "Melton", "Merri-Bek", "Mitchell", "Monash", "Moonee Valley", "Moorabool", "Mornington Peninsula", "Nillumbik", "Port Phillip", "Stonnington", "Whitehorse", "Whittlesea", "Wyndham", "Yarra", "Yarra Ranges"],
                          "range": ["#F8766D", "#F07E4E", "#E7851E", "#DC8D00", "#D09400", "#C29B00", "#B1A100", "#9FA600", "#88AC00", "#6BB100", "#44B500", "#00B927", "#00BC4E", "#00BE6D", "#00C087", "#00C19D", "#00C0B0", "#00BFC4", "#00BCD4", "#00B8E5", "#00B3F2", "#00ABFC", "#29A3FF", "#7099FF", "#9C8DFF", "#B982FF", "#D277FD", "#E46DF5", "#F166E8", "#FA62D9", "#FF61C7", "#FF63B3", "#FF689E", "#FD6F87"]
                        }
                      }
                    }
                  },
                  {
                    "transform": [{"aggregate": [{"op": "count", "as": "n"}], "groupby": ["lga"]}],
                    "layer": [
                      {
                        "mark": {"type": "rule", "color": "#595959", "strokeWidth": 2.8, "strokeDash": [11, 11.5]},
                        "encoding": {"x": {"datum": 0.8}, "y": {"datum": -0.076}, "y2": {"datum": 1.596}}
                      },
                      {
                        "mark": {"type": "rule", "color": "#595959", "strokeWidth": 2.8, "strokeDash": [11, 11.5]},
                        "encoding": {"x": {"datum": 1.2}, "y": {"datum": -0.076}, "y2": {"datum": 1.596}}
                      },
                      {
                        "mark": {"type": "rule", "color": "#595959", "strokeWidth": 2.8, "strokeDash": [11, 11.5]},
                        "encoding": {"x": {"datum": 1.6}, "y": {"datum": -0.076}, "y2": {"datum": 1.596}}
                      },
                      {
                        "mark": {"type": "rect", "fill": "#D9D9D9", "stroke": "#333333", "strokeWidth": 1.5},
                        "encoding": {"x": {"datum": -0.7}, "x2": {"datum": 15.7}, "y": {"datum": 1.596}, "y2": {"datum": 2.318}}
                      },
                      {
                        "mark": {"type": "text", "font": "Liberation Sans", "fontSize": 19.3, "color": "#1A1A1A", "baseline": "middle", "align": "center"},
                        "encoding": {"x": {"datum": 7.5}, "y": {"datum": 1.957}, "text": {"field": "lga", "type": "nominal"}}
                      }
                    ]
                  }
                ]
              }
            }
          ]
        }
      ]
    }
  ],
  "config": {
    "font": "Liberation Sans",
    "view": {"stroke": "#333333", "strokeWidth": 1.3},
    "headerFacet": {"labels": false, "labelPadding": 0}
  }
}
